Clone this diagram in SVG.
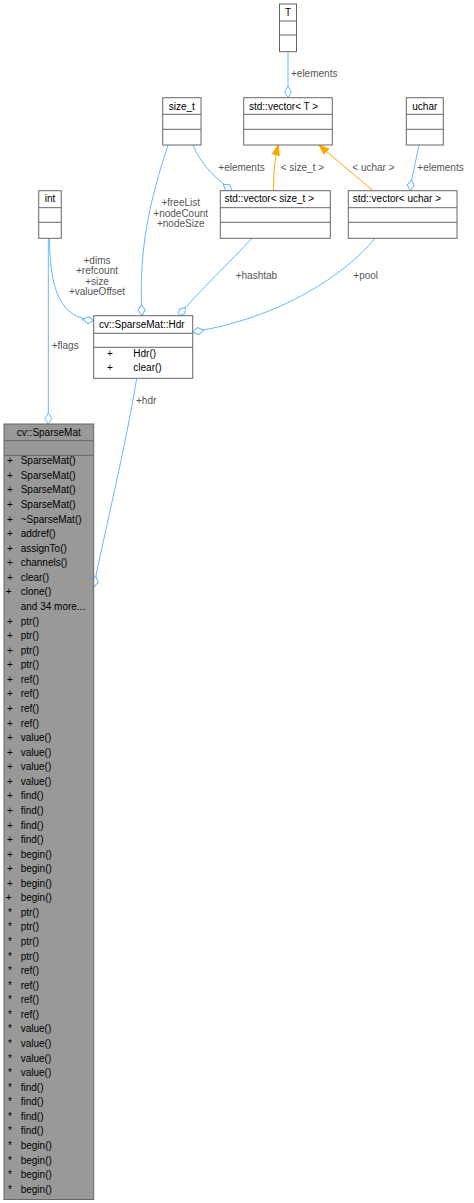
<svg xmlns="http://www.w3.org/2000/svg" width="474" height="1203" viewBox="0 0 474 1203">
<style>
.box{fill:#fff;stroke:#666;stroke-width:1}
.gbox{fill:#999;stroke:#666;stroke-width:1}
.sep{stroke:#666;stroke-width:1}
.t{font-family:"Liberation Sans",Arial,sans-serif;font-size:10px;fill:#000}
.c{text-anchor:middle}
.lbl{font-family:"Liberation Sans",Arial,sans-serif;font-size:10px;fill:#555}
.e{fill:none;stroke:#63b8ff;stroke-width:1}
.o{fill:none;stroke:#ffa500;stroke-width:1}
</style>
<defs>
<marker id="dia" markerUnits="userSpaceOnUse" markerWidth="14" markerHeight="10" refX="11.5" refY="4.5" orient="auto">
<path d="M0.5,4.5 L6,1 L11.5,4.5 L6,8 Z" fill="#fff" stroke="#63b8ff" stroke-width="1"/>
</marker>
<marker id="arr" markerUnits="userSpaceOnUse" markerWidth="12" markerHeight="9" refX="10.5" refY="4" orient="auto">
<path d="M0.5,0.5 L10.5,4 L0.5,7.5 Z" fill="#ffa500" stroke="#ffa500" stroke-width="1"/>
</marker>
</defs>

<g id="edges">
<path class="e" d="M288,51.7 L288,97.7" marker-end="url(#dia)"/>
<path class="e" d="M193,145 C200,162 212,176 232,190.7" marker-end="url(#dia)"/>
<path class="o" d="M273.5,190.7 C273.5,172 275,158 278.3,145" marker-end="url(#arr)"/>
<path class="o" d="M373,190.7 C356,176 336,160 319,145" marker-end="url(#arr)"/>
<path class="e" d="M419,145 C416,160 412,176 410,190.7" marker-end="url(#dia)"/>
<path class="e" d="M168,145 C150,200 138,250 142,315.7" marker-end="url(#dia)"/>
<path class="e" d="M49.5,238.3 C50,290 60,318 93.7,320.5" marker-end="url(#dia)"/>
<path class="e" d="M48.3,238.3 L48.3,424" marker-end="url(#dia)"/>
<path class="e" d="M252,238.3 C230,262 200,290 178.5,315.7" marker-end="url(#dia)"/>
<path class="e" d="M375,238.3 C345,275 280,318 192.7,332" marker-end="url(#dia)"/>
<path class="e" d="M136.7,378.3 C125,450 105,530 93.7,587" marker-end="url(#dia)"/>
<text class="lbl" x="291" y="76.5">+elements</text>
<text class="lbl" x="218.3" y="170.5">+elements</text>
<text class="lbl" x="280.7" y="170.5">&lt; size_t &gt;</text>
<text class="lbl" x="352.3" y="170.5">&lt; uchar &gt;</text>
<text class="lbl" x="417.3" y="170.5">+elements</text>
<text class="lbl c" x="180.7" y="206">+freeList</text>
<text class="lbl c" x="180.7" y="216.7">+nodeCount</text>
<text class="lbl c" x="180.7" y="227">+nodeSize</text>
<text class="lbl c" x="97" y="263.5">+dims</text>
<text class="lbl c" x="97" y="274">+refcount</text>
<text class="lbl c" x="97" y="284.7">+size</text>
<text class="lbl c" x="97" y="295.3">+valueOffset</text>
<text class="lbl" x="235.7" y="279">+hashtab</text>
<text class="lbl" x="353.3" y="279">+pool</text>
<text class="lbl" x="51.7" y="349">+flags</text>
<text class="lbl" x="136" y="403.5">+hdr</text>
</g>

<g id="T">
<rect class="box" x="279.5" y="4" width="17" height="47.7"/>
<line class="sep" x1="279.5" y1="21" x2="296.5" y2="21"/>
<line class="sep" x1="279.5" y1="35" x2="296.5" y2="35"/>
<text class="t c" x="288" y="16">T</text>
</g>

<g id="vectorT">
<rect class="box" x="243.7" y="97.7" width="88.6" height="47.3"/>
<line class="sep" x1="243.7" y1="114.3" x2="332.3" y2="114.3"/>
<line class="sep" x1="243.7" y1="129.3" x2="332.3" y2="129.3"/>
<text class="t" x="249" y="109.5">std::vector&lt; T &gt;</text>
</g>

<g id="size_t">
<rect class="box" x="162.7" y="97.7" width="38.3" height="47.3"/>
<line class="sep" x1="162.7" y1="114.3" x2="201" y2="114.3"/>
<line class="sep" x1="162.7" y1="129.3" x2="201" y2="129.3"/>
<text class="t c" x="181.8" y="109.5">size_t</text>
</g>

<g id="uchar">
<rect class="box" x="406.3" y="97.7" width="37" height="47.3"/>
<line class="sep" x1="406.3" y1="114.3" x2="443.3" y2="114.3"/>
<line class="sep" x1="406.3" y1="129.3" x2="443.3" y2="129.3"/>
<text class="t c" x="424.8" y="109.5">uchar</text>
</g>

<g id="vectorSize_t">
<rect class="box" x="220.3" y="190.7" width="110" height="47.6"/>
<line class="sep" x1="220.3" y1="207.7" x2="330.3" y2="207.7"/>
<line class="sep" x1="220.3" y1="222.3" x2="330.3" y2="222.3"/>
<text class="t" x="224.5" y="202.2">std::vector&lt; size_t &gt;</text>
</g>

<g id="vectorUchar">
<rect class="box" x="348.3" y="190.7" width="108.7" height="47.6"/>
<line class="sep" x1="348.3" y1="207.7" x2="457" y2="207.7"/>
<line class="sep" x1="348.3" y1="222.3" x2="457" y2="222.3"/>
<text class="t" x="352.7" y="202.2">std::vector&lt; uchar &gt;</text>
</g>

<g id="int">
<rect class="box" x="38.7" y="190.7" width="22.6" height="47.6"/>
<line class="sep" x1="38.7" y1="207.7" x2="61.3" y2="207.7"/>
<line class="sep" x1="38.7" y1="222.3" x2="61.3" y2="222.3"/>
<text class="t c" x="50" y="202.2">int</text>
</g>

<g id="Hdr">
<rect class="box" x="93.7" y="315.7" width="99" height="62.6"/>
<line class="sep" x1="93.7" y1="333.3" x2="192.7" y2="333.3"/>
<line class="sep" x1="93.7" y1="347.3" x2="192.7" y2="347.3"/>
<text class="t" x="99" y="327.8">cv::SparseMat::Hdr</text>
<text class="t c" x="110" y="356.8">+</text>
<text class="t" x="133.3" y="356.8">Hdr()</text>
<text class="t c" x="110" y="371.2">+</text>
<text class="t" x="133.3" y="371.2">clear()</text>
</g>

<g id="SparseMat">
<rect class="gbox" x="4" y="424" width="89.7" height="775.5"/>
<line class="sep" x1="4" y1="440.7" x2="93.7" y2="440.7"/>
<line class="sep" x1="4" y1="455.3" x2="93.7" y2="455.3"/>
<text class="t c" x="48.8" y="435.8">cv::SparseMat</text>
<text class="t c">
<tspan x="10" y="464.2">+</tspan><tspan x="10" y="478.8">+</tspan><tspan x="10" y="493.3">+</tspan><tspan x="10" y="507.9">+</tspan><tspan x="10" y="522.5">+</tspan><tspan x="10" y="537.1">+</tspan><tspan x="10" y="551.6">+</tspan><tspan x="10" y="566.2">+</tspan><tspan x="10" y="580.8">+</tspan><tspan x="10" y="595.3">+</tspan>
<tspan x="10" y="624.5">+</tspan><tspan x="10" y="639">+</tspan><tspan x="10" y="653.6">+</tspan><tspan x="10" y="668.2">+</tspan><tspan x="10" y="682.8">+</tspan><tspan x="10" y="697.3">+</tspan><tspan x="10" y="711.9">+</tspan><tspan x="10" y="726.5">+</tspan><tspan x="10" y="741">+</tspan><tspan x="10" y="755.6">+</tspan><tspan x="10" y="770.2">+</tspan><tspan x="10" y="784.7">+</tspan><tspan x="10" y="799.3">+</tspan><tspan x="10" y="813.9">+</tspan><tspan x="10" y="828.5">+</tspan><tspan x="10" y="843">+</tspan><tspan x="10" y="857.6">+</tspan><tspan x="10" y="872.2">+</tspan><tspan x="10" y="886.7">+</tspan><tspan x="10" y="901.3">+</tspan>
<tspan x="10" y="915.9">*</tspan><tspan x="10" y="930.4">*</tspan><tspan x="10" y="945">*</tspan><tspan x="10" y="959.6">*</tspan><tspan x="10" y="974.2">*</tspan><tspan x="10" y="988.7">*</tspan><tspan x="10" y="1003.3">*</tspan><tspan x="10" y="1017.9">*</tspan><tspan x="10" y="1032.4">*</tspan><tspan x="10" y="1047">*</tspan><tspan x="10" y="1061.6">*</tspan><tspan x="10" y="1076.1">*</tspan><tspan x="10" y="1090.7">*</tspan><tspan x="10" y="1105.3">*</tspan><tspan x="10" y="1119.9">*</tspan><tspan x="10" y="1134.4">*</tspan><tspan x="10" y="1149">*</tspan><tspan x="10" y="1163.6">*</tspan><tspan x="10" y="1178.1">*</tspan><tspan x="10" y="1192.7">*</tspan>
</text>
<text class="t">
<tspan x="20.7" y="464.2">SparseMat()</tspan><tspan x="20.7" y="478.8">SparseMat()</tspan><tspan x="20.7" y="493.3">SparseMat()</tspan><tspan x="20.7" y="507.9">SparseMat()</tspan><tspan x="20.7" y="522.5">~SparseMat()</tspan><tspan x="20.7" y="537.1">addref()</tspan><tspan x="20.7" y="551.6">assignTo()</tspan><tspan x="20.7" y="566.2">channels()</tspan><tspan x="20.7" y="580.8">clear()</tspan><tspan x="20.7" y="595.3">clone()</tspan><tspan x="20.7" y="609.9">and 34 more...</tspan>
<tspan x="20.7" y="624.5">ptr()</tspan><tspan x="20.7" y="639">ptr()</tspan><tspan x="20.7" y="653.6">ptr()</tspan><tspan x="20.7" y="668.2">ptr()</tspan><tspan x="20.7" y="682.8">ref()</tspan><tspan x="20.7" y="697.3">ref()</tspan><tspan x="20.7" y="711.9">ref()</tspan><tspan x="20.7" y="726.5">ref()</tspan><tspan x="20.7" y="741">value()</tspan><tspan x="20.7" y="755.6">value()</tspan><tspan x="20.7" y="770.2">value()</tspan><tspan x="20.7" y="784.7">value()</tspan><tspan x="20.7" y="799.3">find()</tspan><tspan x="20.7" y="813.9">find()</tspan><tspan x="20.7" y="828.5">find()</tspan><tspan x="20.7" y="843">find()</tspan><tspan x="20.7" y="857.6">begin()</tspan><tspan x="20.7" y="872.2">begin()</tspan><tspan x="20.7" y="886.7">begin()</tspan><tspan x="20.7" y="901.3">begin()</tspan>
<tspan x="20.7" y="915.9">ptr()</tspan><tspan x="20.7" y="930.4">ptr()</tspan><tspan x="20.7" y="945">ptr()</tspan><tspan x="20.7" y="959.6">ptr()</tspan><tspan x="20.7" y="974.2">ref()</tspan><tspan x="20.7" y="988.7">ref()</tspan><tspan x="20.7" y="1003.3">ref()</tspan><tspan x="20.7" y="1017.9">ref()</tspan><tspan x="20.7" y="1032.4">value()</tspan><tspan x="20.7" y="1047">value()</tspan><tspan x="20.7" y="1061.6">value()</tspan><tspan x="20.7" y="1076.1">value()</tspan><tspan x="20.7" y="1090.7">find()</tspan><tspan x="20.7" y="1105.3">find()</tspan><tspan x="20.7" y="1119.9">find()</tspan><tspan x="20.7" y="1134.4">find()</tspan><tspan x="20.7" y="1149">begin()</tspan><tspan x="20.7" y="1163.6">begin()</tspan><tspan x="20.7" y="1178.1">begin()</tspan><tspan x="20.7" y="1192.7">begin()</tspan>
</text>
</g>
</svg>
